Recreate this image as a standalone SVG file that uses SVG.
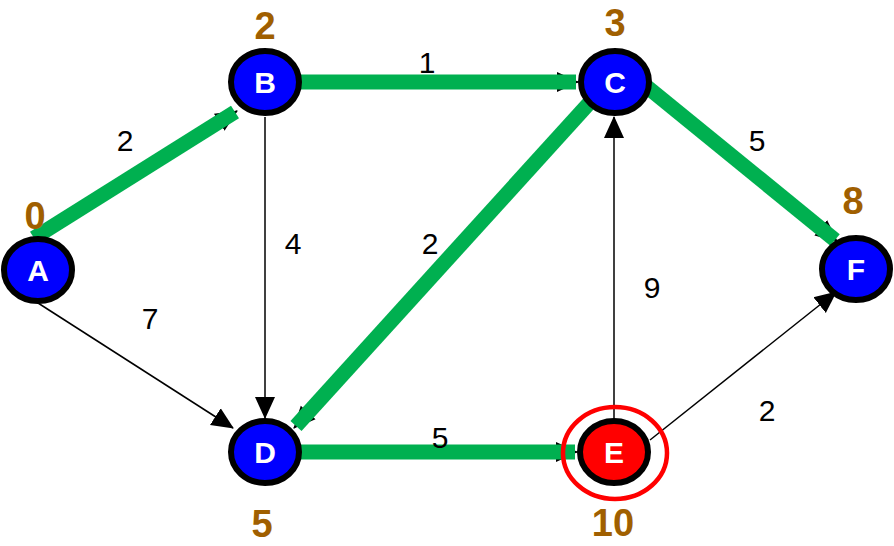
<svg xmlns="http://www.w3.org/2000/svg" width="894" height="546" viewBox="0 0 894 546">
<defs>
<marker id="arr" markerUnits="userSpaceOnUse" markerWidth="22" markerHeight="22" viewBox="0 0 22 22" refX="21" refY="11" orient="auto">
<path d="M0,1 L22,11 L0,21 Z" fill="#000"/>
</marker>
</defs>
<style>
.e{stroke:#000;stroke-width:1.5;fill:none;marker-end:url(#arr)}
.g{stroke:#00b050;stroke-width:15;fill:none}
.n{fill:#0000ff;stroke:#000;stroke-width:6}
.lt{font-family:"Liberation Sans",Arial,sans-serif;font-size:30px;font-weight:bold;fill:#fff;text-anchor:middle}
.d{font-family:"Liberation Sans",Arial,sans-serif;font-size:38px;font-weight:bold;fill:#a05f00;text-anchor:middle}
.w{font-family:"Liberation Sans",Arial,sans-serif;font-size:30px;fill:#000;text-anchor:middle}
</style>
<g id="connectors">
<line class="e" x1="38" y1="236" x2="237" y2="111"/>
<line class="g" x1="34" y1="238" x2="235" y2="112"/>
<line class="e" x1="302" y1="82" x2="578" y2="82"/>
<line class="g" x1="300" y1="82" x2="576" y2="82"/>
<line class="e" x1="265" y1="117" x2="265" y2="418"/>
<line class="e" x1="38" y1="303" x2="233" y2="428"/>
<line class="e" x1="592" y1="102" x2="294" y2="428"/>
<line class="g" x1="592" y1="100" x2="296" y2="426"/>
<line class="e" x1="648" y1="86" x2="837" y2="241"/>
<line class="g" x1="646" y1="86" x2="835" y2="240"/>
<line class="e" x1="614" y1="418" x2="614" y2="117"/>
<line class="e" x1="302" y1="452" x2="577" y2="452"/>
<line class="g" x1="298" y1="452" x2="575" y2="452"/>
<line class="e" x1="650" y1="440" x2="836" y2="292"/>
<text class="w" x="125" y="151">2</text>
<text class="w" x="427" y="73">1</text>
<text class="w" x="293" y="254">4</text>
<text class="w" x="430" y="254">2</text>
<text class="w" x="150" y="329">7</text>
<text class="w" x="757" y="151">5</text>
<text class="w" x="652" y="298">9</text>
<text class="w" x="440" y="448">5</text>
<text class="w" x="767" y="421">2</text>
</g>
<g id="A"><ellipse class="n" cx="38" cy="270" rx="34" ry="31"/><text class="lt" x="38" y="281">A</text><text class="d" x="35" y="229">0</text></g>
<g id="B"><ellipse class="n" cx="265" cy="82" rx="34" ry="31"/><text class="lt" x="265" y="93">B</text><text class="d" x="265" y="39">2</text></g>
<g id="C"><ellipse class="n" cx="615" cy="82" rx="34" ry="31"/><text class="lt" x="615" y="93">C</text><text class="d" x="615" y="36">3</text></g>
<g id="D"><ellipse class="n" cx="265" cy="452" rx="34" ry="31"/><text class="lt" x="265" y="463">D</text><text class="d" x="262" y="537">5</text></g>
<g id="E"><ellipse cx="614" cy="452" rx="34" ry="31" fill="#ff0000" stroke="#000" stroke-width="6"/><ellipse cx="615" cy="453" rx="52" ry="46" fill="none" stroke="#ff0000" stroke-width="4.5"/><text class="lt" x="614" y="463">E</text><text class="d" x="613" y="536">10</text></g>
<g id="F"><ellipse class="n" cx="856" cy="269" rx="34" ry="31"/><text class="lt" x="856" y="280">F</text><text class="d" x="853" y="214">8</text></g>
</svg>
